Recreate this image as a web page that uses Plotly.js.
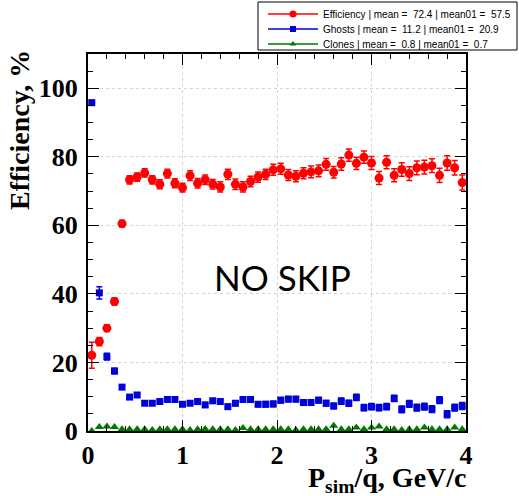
<!DOCTYPE html>
<html>
<head>
<meta charset="utf-8">
<script src="https://cdn.plot.ly/plotly-3.0.1.min.js"></script>
<style>html,body{margin:0;padding:0;background:#fff;}#chart{width:519px;height:496px;}</style>
</head>
<body>
<div id="chart"></div>
<script>
// bin centres (GeV/c), 50 bins of 0.08 from 0 to 4
const binCenters = [0.04,0.12,0.20,0.28,0.36,0.44,0.52,0.60,0.68,0.76,0.84,0.92,1.00,1.08,1.16,1.24,1.32,1.40,1.48,1.56,1.64,1.72,1.80,1.88,1.96,2.04,2.12,2.20,2.28,2.36,2.44,2.52,2.60,2.68,2.76,2.84,2.92,3.00,3.08,3.16,3.24,3.32,3.40,3.48,3.56,3.64,3.72,3.80,3.88,3.96];

const efficiency = [22.1,26.1,30.0,37.8,60.5,73.3,74.1,75.3,73.3,72.0,
                    75.1,72.3,71.0,74.5,72.3,73.3,72.0,71.2,74.9,72.0,
                    71.2,72.8,74.1,74.9,76.2,76.5,74.7,74.3,75.2,75.6,
                    75.9,77.8,75.5,77.9,80.5,78.1,79.9,78.2,73.8,78.4,
                    74.6,76.3,75.1,76.8,77.0,77.4,74.6,78.2,76.8,72.5];
const efficiencyErr = [3.8,1.2,1.0,1.0,1.0,1.2,1.2,1.2,1.2,1.3,
                       1.3,1.3,1.3,1.4,1.4,1.4,1.4,1.5,1.5,1.5,
                       1.5,1.5,1.5,1.5,1.6,1.6,1.6,1.6,1.6,1.7,
                       1.7,1.7,1.7,1.8,1.8,1.8,1.8,1.9,1.9,1.9,
                       1.9,2.0,2.0,2.0,2.0,2.0,2.1,2.1,2.1,2.2];

const ghosts = [95.8,40.3,21.7,17.5,12.8,9.9,10.5,8.1,8.1,8.6,
                9.2,9.2,7.8,8.1,8.6,7.6,8.8,8.6,7.1,8.1,
                9.2,9.2,7.8,7.8,7.9,9.0,9.3,9.3,8.3,8.3,
                9.0,8.1,7.3,8.7,8.1,9.8,6.8,7.1,6.8,7.1,
                9.5,6.3,7.9,6.8,7.1,6.4,9.0,4.9,6.8,7.3];
const ghostsErr = [0.6,1.8,1.0,0.8,0.6,0.6,0.6,0.6,0.6,0.6,
                   0.6,0.6,0.6,0.6,0.7,0.7,0.7,0.7,0.7,0.7,
                   0.7,0.7,0.7,0.8,0.8,0.8,0.8,0.8,0.8,0.8,
                   0.8,0.8,0.8,0.9,0.9,0.9,0.9,0.9,0.9,0.9,
                   0.9,1.0,1.0,1.0,1.0,1.0,1.0,1.0,1.0,1.0];

const clones = [0.0,1.2,1.3,1.2,0.5,0.5,0.5,0.5,0.3,0.5,
                0.5,0.5,0.5,0.3,0.5,0.6,0.5,0.5,0.5,0.3,
                0.9,0.5,0.5,0.5,0.5,0.5,0.5,0.3,0.5,0.5,
                0.5,0.5,1.5,0.5,0.5,1.0,0.5,1.0,1.3,0.5,
                0.5,0.3,0.5,0.5,1.0,0.5,0.5,0.5,1.0,0.5];

const legendLabels = [
  "Efficiency | mean =\u00a0 72.4 | mean01 =\u00a0 57.5",
  "Ghosts | mean =\u00a0 11.2 | mean01 =\u00a0 20.9",
  "Clones | mean =\u00a0 0.8 | mean01 =\u00a0 0.7"
];
const xTickLabels = ["0","1","2","3","4"];
const yTickLabels = ["0","20","40","60","80","100"];

const RED = '#ff0000', BLUE = '#0000dd', GREEN = '#007a00';

const traces = [
  {x: binCenters, y: efficiency, type:'scatter', mode:'markers', showlegend:false,
   marker:{symbol:'circle', size:9, color:RED},
   error_y:{type:'data', array:efficiencyErr, color:RED, thickness:1.5, width:3}},
  {x: binCenters, y: ghosts, type:'scatter', mode:'markers', showlegend:false,
   marker:{symbol:'square', size:7, color:BLUE},
   error_y:{type:'data', array:ghostsErr, color:BLUE, thickness:1.5, width:3}},
  {x: binCenters, y: clones, type:'scatter', mode:'markers', showlegend:false,
   marker:{symbol:'triangle-up', size:8, color:GREEN}},
  // legend entries
  {x:[null], y:[null], type:'scatter', mode:'lines+markers', name:legendLabels[0], legend:'legend',
   line:{color:RED, width:1.5}, marker:{symbol:'circle', size:7, color:RED}},
  {x:[null], y:[null], type:'scatter', mode:'lines+markers', name:legendLabels[1], legend:'legend2',
   line:{color:BLUE, width:1.5}, marker:{symbol:'square', size:6, color:BLUE}},
  {x:[null], y:[null], type:'scatter', mode:'lines+markers', name:legendLabels[2], legend:'legend3',
   line:{color:GREEN, width:1.5}, marker:{symbol:'triangle-up', size:6, color:GREEN}}
];

const tickFont = {family:'Liberation Serif, Times New Roman, serif', size:26, color:'#000', weight:'bold'};

const axisCommon = {
  showline:true, linewidth:2, linecolor:'#000', mirror:'allticks',
  ticks:'inside', ticklen:11, tickwidth:1, tickcolor:'#000',
  showgrid:true, gridcolor:'#d4d4d4', griddash:'dot', gridwidth:1,
  zeroline:false, tickfont:tickFont, fixedrange:true, automargin:false
};

// plot area: 88..466 px horizontally, 54..431 px vertically
const pxToPaperY = p => (431 - p) / 377;
const pxToPaperX = p => (p - 88) / 378;

function legendAt(py) {
  return {x:pxToPaperX(263), y:pxToPaperY(py), xanchor:'left', yanchor:'middle',
          bgcolor:'rgba(0,0,0,0)', borderwidth:0,
          font:{family:'Liberation Sans, Arial, sans-serif', size:10, color:'#000'},
          itemwidth:50, tracegroupgap:0};
}

const layout = {
  width:519, height:496,
  margin:{l:88, r:53, t:54, b:65, autoexpand:false},
  paper_bgcolor:'#fff', plot_bgcolor:'#fff',
  showlegend:true,
  legend: legendAt(14),
  legend2: legendAt(29),
  legend3: legendAt(44),
  xaxis: Object.assign({}, axisCommon, {
    range:[0,4], tickmode:'array', tickvals:[0,1,2,3,4], ticktext:xTickLabels,
    ticklabelstandoff:0,
    minor:{dtick:0.2, ticklen:5, ticks:'inside', tickcolor:'#000', showgrid:false}
  }),
  yaxis: Object.assign({}, axisCommon, {
    range:[0,110], tickmode:'array', tickvals:[0,20,40,60,80,100], ticktext:yTickLabels,
    ticklabelstandoff:3,
    minor:{dtick:5, ticklen:5, ticks:'inside', tickcolor:'#000', showgrid:false}
  }),
  shapes:[
    {type:'rect', xref:'paper', yref:'paper', layer:'above',
     x0:pxToPaperX(258), x1:pxToPaperX(517), y0:pxToPaperY(50), y1:pxToPaperY(2),
     line:{color:'#000', width:1}, fillcolor:'#fff'}
  ],
  annotations:[
    {text:'NO SKIP', xref:'paper', yref:'paper', x:pxToPaperX(282), y:pxToPaperY(277),
     xanchor:'center', yanchor:'middle', showarrow:false,
     font:{family:'Lato, sans-serif', size:35, color:'#000'}},
    {text:'Efficiency, %', xref:'paper', yref:'paper', x:pxToPaperX(20), y:pxToPaperY(48),
     xanchor:'center', yanchor:'top', textangle:-90, showarrow:false,
     font:{family:'Liberation Serif, Times New Roman, serif', size:28, color:'#000', weight:'bold'}},
    {text:'P<sub>sim</sub>/q, GeV/c', xref:'paper', yref:'paper', x:pxToPaperX(469), y:pxToPaperY(479),
     xanchor:'right', yanchor:'middle', showarrow:false,
     font:{family:'Liberation Serif, Times New Roman, serif', size:28, color:'#000', weight:'bold'}}
  ]
};

Plotly.newPlot('chart', traces, layout, {displayModeBar:false, staticPlot:true});
</script>
</body>
</html>
